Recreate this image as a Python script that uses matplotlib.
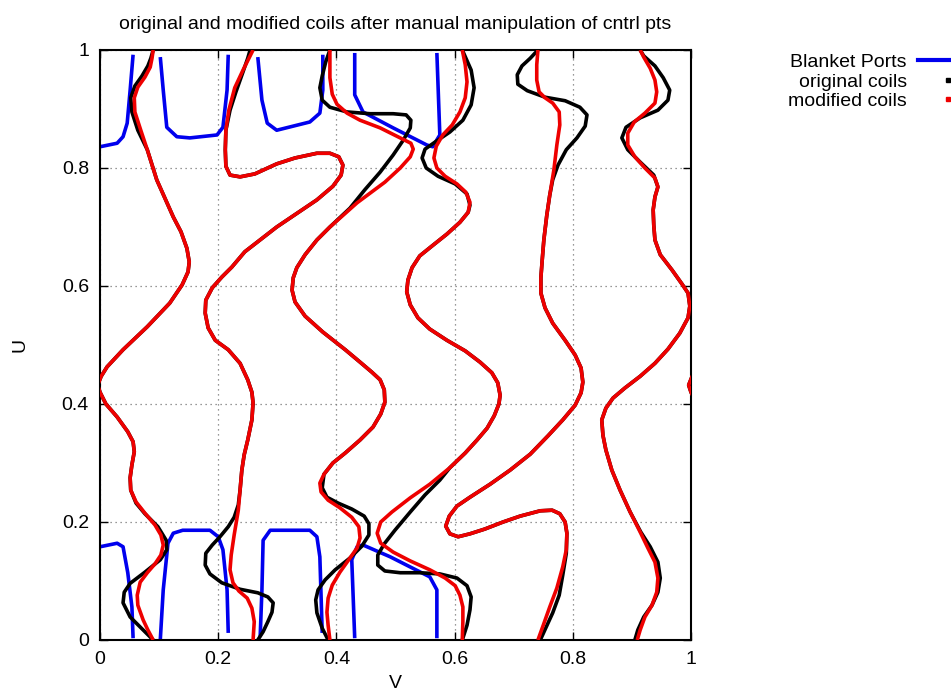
import numpy as np
import matplotlib.pyplot as plt
from matplotlib.lines import Line2D

plt.rcParams['font.family'] = ['Liberation Sans', 'DejaVu Sans']

# %% DATA (v, u)

# blanket ports (blue)
port_t1_v = [0.0, 0.029, 0.039, 0.046, 0.051, 0.056]
port_t1_u = [0.836, 0.842, 0.853, 0.876, 0.932, 0.992]
port_t2_v = [0.102, 0.107, 0.113, 0.130, 0.152, 0.198, 0.208, 0.215, 0.217]
port_t2_u = [0.988, 0.932, 0.869, 0.853, 0.851, 0.856, 0.869, 0.932, 0.992]
port_t3_v = [0.267, 0.274, 0.283, 0.299, 0.355, 0.372, 0.377, 0.377]
port_t3_u = [0.988, 0.915, 0.876, 0.864, 0.878, 0.893, 0.932, 0.992]
port_t4_v = [0.431, 0.431, 0.445, 0.496, 0.553, 0.563, 0.575, 0.570]
port_t4_u = [0.995, 0.924, 0.895, 0.868, 0.839, 0.836, 0.856, 0.995]
port_b1_v = [0.0, 0.029, 0.039, 0.047, 0.054, 0.056]
port_b1_u = [0.158, 0.164, 0.158, 0.114, 0.056, 0.003]
port_b2_v = [0.102, 0.107, 0.115, 0.124, 0.140, 0.186, 0.200, 0.208, 0.215, 0.217]
port_b2_u = [0.0, 0.085, 0.164, 0.181, 0.186, 0.186, 0.175, 0.153, 0.085, 0.012]
port_b3_v = [0.271, 0.274, 0.276, 0.288, 0.355, 0.367, 0.372, 0.376]
port_b3_u = [0.005, 0.085, 0.169, 0.186, 0.186, 0.175, 0.141, 0.012]
port_b4_v = [0.431, 0.426, 0.435, 0.445, 0.491, 0.558, 0.570, 0.570]
port_b4_u = [0.003, 0.136, 0.158, 0.161, 0.141, 0.107, 0.085, 0.003]

# modified coils (red)
mod_a_v = [0.090, 0.081, 0.073, 0.064, 0.063, 0.068, 0.080, 0.093, 0.103, 0.107, 0.103, 0.093,
           0.076, 0.061, 0.052, 0.051, 0.054, 0.058, 0.056, 0.047, 0.029, 0.010, 0.0, -0.004,
           0.002, 0.012, 0.039, 0.080, 0.118, 0.139, 0.149, 0.151, 0.147, 0.137, 0.124, 0.096,
           0.080, 0.069, 0.059, 0.058, 0.064, 0.076, 0.085, 0.088, 0.090]
mod_a_u = [0.0, 0.017, 0.034, 0.059, 0.076, 0.098, 0.114, 0.129, 0.144, 0.161, 0.178, 0.195,
           0.215, 0.234, 0.254, 0.275, 0.297, 0.319, 0.336, 0.353, 0.378, 0.400, 0.420, 0.432,
           0.447, 0.463, 0.492, 0.531, 0.571, 0.602, 0.624, 0.641, 0.664, 0.692, 0.717, 0.780,
           0.831, 0.864, 0.895, 0.919, 0.937, 0.954, 0.971, 0.986, 1.0]
mod_b_v = [0.259, 0.261, 0.257, 0.249, 0.235, 0.225, 0.220, 0.222, 0.227, 0.234, 0.237, 0.240,
           0.244, 0.250, 0.257, 0.259, 0.257, 0.250, 0.237, 0.217, 0.195, 0.183, 0.178, 0.179,
           0.190, 0.206, 0.223, 0.245, 0.299, 0.367, 0.394, 0.408, 0.411, 0.404, 0.389, 0.367,
           0.330, 0.299, 0.262, 0.237, 0.220, 0.213, 0.212, 0.213, 0.218, 0.228, 0.242, 0.252,
           0.259]
mod_b_u = [0.0, 0.031, 0.054, 0.071, 0.083, 0.097, 0.119, 0.144, 0.178, 0.220, 0.254, 0.288,
           0.314, 0.339, 0.373, 0.402, 0.420, 0.441, 0.469, 0.492, 0.508, 0.529, 0.554, 0.576,
           0.597, 0.615, 0.632, 0.658, 0.700, 0.746, 0.769, 0.788, 0.805, 0.819, 0.825, 0.825,
           0.817, 0.807, 0.790, 0.785, 0.788, 0.803, 0.831, 0.864, 0.898, 0.936, 0.966, 0.986,
           1.0]
mod_c_v = [0.389, 0.386, 0.384, 0.386, 0.393, 0.406, 0.423, 0.435, 0.440, 0.438, 0.426, 0.406,
           0.386, 0.374, 0.372, 0.379, 0.394, 0.415, 0.440, 0.462, 0.475, 0.482, 0.481, 0.474,
           0.460, 0.440, 0.415, 0.377, 0.347, 0.330, 0.325, 0.327, 0.333, 0.347, 0.367, 0.389,
           0.435, 0.482, 0.508, 0.525, 0.530, 0.526, 0.516, 0.474, 0.440, 0.418, 0.401, 0.393,
           0.389, 0.389]
mod_c_u = [0.0, 0.025, 0.047, 0.071, 0.093, 0.115, 0.139, 0.156, 0.173, 0.192, 0.208, 0.224,
           0.237, 0.251, 0.266, 0.281, 0.300, 0.317, 0.339, 0.361, 0.383, 0.403, 0.424, 0.441,
           0.454, 0.471, 0.492, 0.522, 0.549, 0.573, 0.593, 0.614, 0.631, 0.653, 0.678, 0.700,
           0.741, 0.776, 0.800, 0.819, 0.832, 0.842, 0.847, 0.868, 0.881, 0.893, 0.908, 0.925,
           0.953, 1.0]
mod_d_v = [0.613, 0.614, 0.614, 0.609, 0.601, 0.584, 0.558, 0.525, 0.496, 0.475, 0.469, 0.475,
           0.494, 0.525, 0.558, 0.592, 0.618, 0.638, 0.655, 0.667, 0.675, 0.677, 0.673, 0.663,
           0.643, 0.618, 0.587, 0.558, 0.538, 0.525, 0.519, 0.521, 0.528, 0.541, 0.562, 0.587,
           0.609, 0.623, 0.626, 0.619, 0.604, 0.584, 0.570, 0.565, 0.569, 0.580, 0.596, 0.609,
           0.618, 0.621, 0.618, 0.613]
mod_d_u = [0.0, 0.031, 0.056, 0.076, 0.092, 0.105, 0.119, 0.134, 0.149, 0.164, 0.181, 0.200,
           0.217, 0.241, 0.264, 0.292, 0.317, 0.339, 0.359, 0.380, 0.400, 0.415, 0.436, 0.453,
           0.471, 0.490, 0.508, 0.527, 0.546, 0.568, 0.590, 0.610, 0.631, 0.651, 0.668, 0.688,
           0.708, 0.725, 0.742, 0.759, 0.773, 0.786, 0.800, 0.817, 0.837, 0.856, 0.873, 0.895,
           0.919, 0.946, 0.975, 1.0]
mod_e_v = [0.741, 0.750, 0.761, 0.773, 0.783, 0.789, 0.790, 0.787, 0.778, 0.765, 0.745, 0.711,
           0.682, 0.651, 0.626, 0.606, 0.592, 0.585, 0.591, 0.604, 0.626, 0.660, 0.694, 0.728,
           0.758, 0.783, 0.804, 0.814, 0.817, 0.814, 0.804, 0.787, 0.766, 0.753, 0.746, 0.746,
           0.748, 0.751, 0.756, 0.761, 0.768, 0.773, 0.778, 0.777, 0.766, 0.753, 0.743, 0.739,
           0.739, 0.741]
mod_e_u = [0.0, 0.025, 0.056, 0.088, 0.124, 0.153, 0.181, 0.200, 0.214, 0.220, 0.219, 0.210,
           0.200, 0.188, 0.180, 0.175, 0.180, 0.193, 0.210, 0.227, 0.242, 0.264, 0.288, 0.315,
           0.346, 0.373, 0.398, 0.419, 0.437, 0.461, 0.483, 0.508, 0.537, 0.563, 0.588, 0.614,
           0.641, 0.678, 0.720, 0.754, 0.797, 0.839, 0.873, 0.895, 0.910, 0.919, 0.929, 0.949,
           0.975, 1.0]
mod_f_v = [0.909, 0.914, 0.922, 0.934, 0.942, 0.944, 0.939, 0.927, 0.914, 0.897, 0.880, 0.866,
           0.856, 0.851, 0.849, 0.856, 0.868, 0.888, 0.914, 0.939, 0.961, 0.981, 0.995, 0.998,
           0.995, 0.985, 0.968, 0.948, 0.939, 0.937, 0.936, 0.939, 0.944, 0.939, 0.922, 0.905,
           0.893, 0.893, 0.904, 0.922, 0.939, 0.942, 0.939, 0.931, 0.920, 0.914]
mod_f_u = [0.0, 0.017, 0.039, 0.059, 0.081, 0.105, 0.132, 0.156, 0.183, 0.217, 0.254, 0.288,
           0.322, 0.347, 0.373, 0.393, 0.410, 0.427, 0.447, 0.469, 0.493, 0.520, 0.546, 0.566,
           0.588, 0.603, 0.627, 0.653, 0.678, 0.703, 0.729, 0.751, 0.768, 0.783, 0.800, 0.819,
           0.839, 0.859, 0.878, 0.893, 0.910, 0.929, 0.949, 0.969, 0.988, 1.0]

# original coils (black): only the ends differ from the modified ones
orig_a_bot_v = [0.090, 0.073, 0.051, 0.039, 0.041, 0.051, 0.076, 0.102, 0.113, 0.112, 0.098,
                0.076, 0.061, 0.052]
orig_a_bot_u = [0.0, 0.017, 0.039, 0.063, 0.081, 0.096, 0.115, 0.136, 0.153, 0.169, 0.192,
                0.214, 0.232, 0.254]
orig_a_top_v = [0.064, 0.054, 0.052, 0.059, 0.071, 0.081, 0.086, 0.090]
orig_a_top_u = [0.864, 0.895, 0.919, 0.939, 0.956, 0.973, 0.986, 1.0]

orig_b_bot_v = [0.267, 0.276, 0.284, 0.291, 0.293, 0.284, 0.267, 0.237, 0.206, 0.186, 0.178,
                0.179, 0.190, 0.203, 0.217, 0.227, 0.234, 0.237]
orig_b_bot_u = [0.0, 0.014, 0.031, 0.047, 0.063, 0.073, 0.080, 0.086, 0.097, 0.112, 0.127,
                0.147, 0.161, 0.175, 0.192, 0.208, 0.229, 0.254]
orig_b_top_v = [0.213, 0.220, 0.230, 0.242, 0.250, 0.254]
orig_b_top_u = [0.864, 0.898, 0.929, 0.963, 0.986, 1.0]

orig_c_bot_v = [0.386, 0.376, 0.367, 0.365, 0.369, 0.381, 0.398, 0.423, 0.443, 0.455, 0.455,
                0.447, 0.426, 0.403, 0.384, 0.376]
orig_c_bot_u = [0.0, 0.020, 0.046, 0.068, 0.085, 0.102, 0.119, 0.139, 0.159, 0.178, 0.197,
                0.210, 0.222, 0.232, 0.242, 0.258]
orig_c_top_v = [0.423, 0.448, 0.474, 0.496, 0.513, 0.525, 0.526, 0.518, 0.496, 0.457, 0.418,
                0.389, 0.376, 0.372, 0.376, 0.382, 0.389]
orig_c_top_u = [0.732, 0.763, 0.793, 0.822, 0.847, 0.868, 0.881, 0.890, 0.892, 0.892, 0.895,
                0.903, 0.915, 0.936, 0.956, 0.980, 1.0]

orig_d_bot_v = [0.613, 0.621, 0.626, 0.628, 0.621, 0.604, 0.575, 0.541, 0.508, 0.482, 0.470,
                0.470, 0.481, 0.499, 0.525, 0.550, 0.575]
orig_d_bot_u = [0.0, 0.025, 0.051, 0.073, 0.092, 0.105, 0.112, 0.114, 0.114, 0.117, 0.127,
                0.144, 0.163, 0.186, 0.217, 0.246, 0.271]
orig_d_top_v = [0.626, 0.621, 0.601, 0.572, 0.552, 0.545, 0.550, 0.567, 0.592, 0.614, 0.628,
                0.633, 0.628, 0.613]
orig_d_top_u = [0.737, 0.756, 0.773, 0.786, 0.800, 0.817, 0.832, 0.844, 0.861, 0.881, 0.907,
                0.936, 0.966, 1.0]

orig_e_bot_v = [0.745, 0.755, 0.766, 0.777, 0.783, 0.789]
orig_e_bot_u = [0.0, 0.022, 0.046, 0.076, 0.110, 0.147]
orig_e_top_v = [0.766, 0.775, 0.789, 0.807, 0.821, 0.824, 0.812, 0.787, 0.753, 0.723, 0.707,
                0.706, 0.714, 0.728, 0.741]
orig_e_top_u = [0.780, 0.805, 0.831, 0.851, 0.871, 0.890, 0.903, 0.914, 0.920, 0.931, 0.942,
                0.958, 0.973, 0.986, 1.0]

orig_f_bot_v = [0.905, 0.910, 0.920, 0.934, 0.944, 0.948, 0.944, 0.931, 0.915]
orig_f_bot_u = [0.0, 0.017, 0.039, 0.059, 0.081, 0.105, 0.132, 0.158, 0.183]
orig_f_top_v = [0.937, 0.914, 0.893, 0.883, 0.890, 0.914, 0.944, 0.961, 0.964, 0.953, 0.939,
                0.920, 0.914]
orig_f_top_u = [0.788, 0.810, 0.831, 0.851, 0.869, 0.885, 0.898, 0.915, 0.932, 0.953, 0.973,
                0.990, 1.0]

tick_vals = [0, 0.2, 0.4, 0.6, 0.8, 1]
tick_labels = ['0', '0.2', '0.4', '0.6', '0.8', '1']
legend_labels = ['Blanket Ports', 'original coils', 'modified coils']

# %% ASSEMBLE
ports = [(port_t1_v, port_t1_u), (port_t2_v, port_t2_u), (port_t3_v, port_t3_u),
         (port_t4_v, port_t4_u), (port_b1_v, port_b1_u), (port_b2_v, port_b2_u),
         (port_b3_v, port_b3_u), (port_b4_v, port_b4_u)]
mod_coils = [(mod_a_v, mod_a_u), (mod_b_v, mod_b_u), (mod_c_v, mod_c_u),
             (mod_d_v, mod_d_u), (mod_e_v, mod_e_u), (mod_f_v, mod_f_u)]


def join(bot_v, bot_u, mid_v, mid_u, top_v, top_u, i0, i1):
    # original coil = own ends + shared middle stretch of the modified coil
    return bot_v + mid_v[i0:i1] + top_v, bot_u + mid_u[i0:i1] + top_u


orig_coils = [
    join(orig_a_bot_v, orig_a_bot_u, mod_a_v, mod_a_u, orig_a_top_v, orig_a_top_u, 15, 37),
    join(orig_b_bot_v, orig_b_bot_u, mod_b_v, mod_b_u, orig_b_top_v, orig_b_top_u, 11, 43),
    join(orig_c_bot_v, orig_c_bot_u, mod_c_v, mod_c_u, orig_c_top_v, orig_c_top_u, 15, 36),
    join(orig_d_bot_v, orig_d_bot_u, mod_d_v, mod_d_u, orig_d_top_v, orig_d_top_u, 15, 38),
    join(orig_e_bot_v, orig_e_bot_u, mod_e_v, mod_e_u, orig_e_top_v, orig_e_top_u, 6, 40),
    join(orig_f_bot_v, orig_f_bot_u, mod_f_v, mod_f_u, orig_f_top_v, orig_f_top_u, 9, 33),
]

# %% PLOT
fig = plt.figure(figsize=(9.51, 6.95), dpi=100)
ax = fig.add_axes([100 / 951, 55 / 695, 591 / 951, 590 / 695])

style = dict(solid_joinstyle='round', solid_capstyle='butt')
for v, u in ports:
    ax.plot(v, u, color='#0000ee', lw=2.6, zorder=2, **style)

# coils are periodic in v: draw the wrapped copy as well
for coils, col, z in [(orig_coils, 'black', 3), (mod_coils, '#ee0000', 4)]:
    for v, u in coils:
        for shift in (0, 1):
            ax.plot(np.array(v) + shift, u, color=col, lw=2.6, zorder=z, **style)

ax.set_xlim(0, 1)
ax.set_ylim(0, 1)
ax.set_xticks(tick_vals)
ax.set_xticklabels(tick_labels)
ax.set_yticks(tick_vals)
ax.set_yticklabels(tick_labels)
ax.tick_params(direction='in', top=True, right=True, length=6, width=1,
               labelsize=14, pad=8)
ax.grid(True, color='#777777', linestyle=(0, (1, 3)), linewidth=0.9)
for s in ax.spines.values():
    s.set_linewidth(1.5)

ax.set_xlabel('V', fontsize=14, labelpad=5)
ax.set_ylabel('U', fontsize=14, labelpad=24)
ax.set_title('original and modified coils after manual manipulation of cntrl pts',
             fontsize=14, pad=15)

handles = [Line2D([], [], color='#0000ee', lw=3),
           Line2D([], [], color='black', marker='s', markersize=2.5, linestyle='none'),
           Line2D([], [], color='#ee0000', marker='s', markersize=2.5, linestyle='none')]
fig.legend(handles, legend_labels, loc='upper right', bbox_to_anchor=(1.027, 0.923),
           frameon=False, markerfirst=False, fontsize=14, handlelength=3.0,
           handletextpad=0.6, labelspacing=0.1, borderaxespad=0.0, borderpad=0.0)

fig.savefig('out.png', dpi=100)
